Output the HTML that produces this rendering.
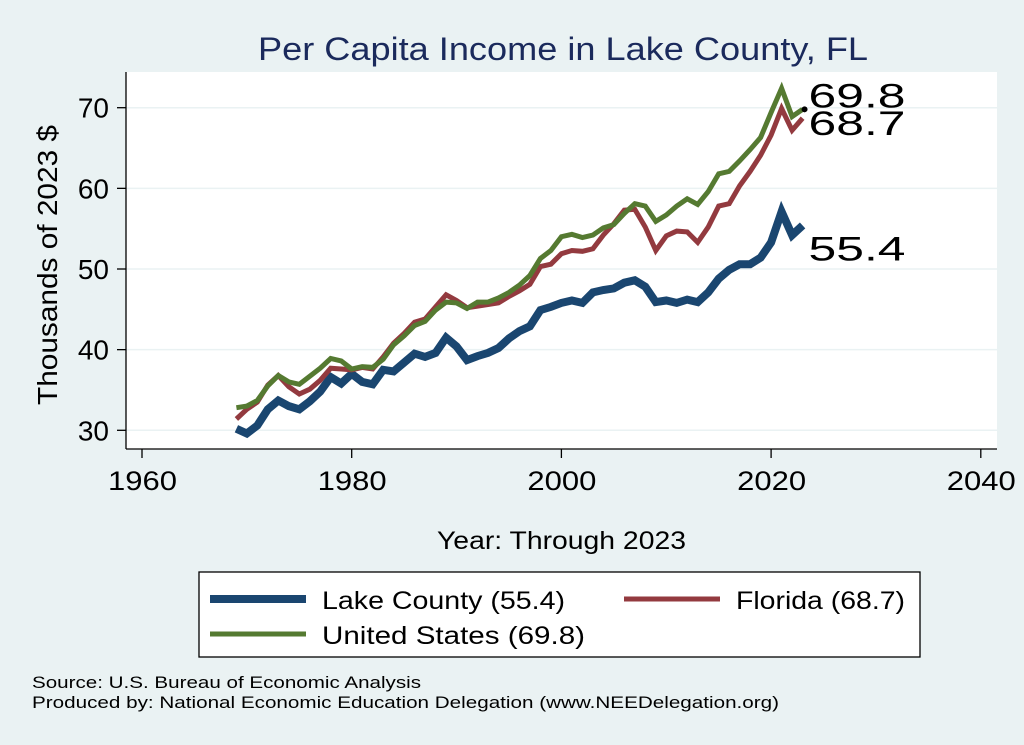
<!DOCTYPE html>
<html><head><meta charset="utf-8"><style>
body{margin:0;background:#eaf2f3;}
svg{display:block;font-family:"Liberation Sans",sans-serif;}
</style></head><body>
<svg width="1024" height="745" viewBox="0 0 1024 745">
<rect x="0" y="0" width="1024" height="745" fill="#eaf2f3"/>
<text x="258" y="60" textLength="610" lengthAdjust="spacingAndGlyphs" font-size="32" fill="#1b2a5c">Per Capita Income in Lake County, FL</text>
<rect x="126" y="72" width="871" height="377" fill="#fff"/>
<g id="grid"></g>
<g id="axes"></g>
<g id="series"></g>
<text transform="translate(57,405) rotate(-90)" textLength="280" lengthAdjust="spacingAndGlyphs" font-size="28" fill="#000">Thousands of 2023 $</text>
<text x="437" y="549" textLength="249" lengthAdjust="spacingAndGlyphs" font-size="25" fill="#000">Year: Through 2023</text>
<g>
<rect x="199" y="572" width="721" height="85" fill="#fff" stroke="#000" stroke-width="1.3"/>
<line x1="210" y1="599" x2="306" y2="599" stroke="#1a4670" stroke-width="8"/>
<text x="322" y="609" textLength="243" lengthAdjust="spacingAndGlyphs" font-size="25">Lake County (55.4)</text>
<line x1="624" y1="599" x2="720" y2="599" stroke="#933a3f" stroke-width="5"/>
<text x="736" y="609" textLength="169" lengthAdjust="spacingAndGlyphs" font-size="25">Florida (68.7)</text>
<line x1="210" y1="634" x2="306" y2="634" stroke="#557a31" stroke-width="5"/>
<text x="322" y="644" textLength="263" lengthAdjust="spacingAndGlyphs" font-size="25">United States (69.8)</text>
</g>
<text x="32" y="688" textLength="389" lengthAdjust="spacingAndGlyphs" font-size="17">Source: U.S. Bureau of Economic Analysis</text>
<text x="32" y="708" textLength="747" lengthAdjust="spacingAndGlyphs" font-size="17">Produced by: National Economic Education Delegation (www.NEEDelegation.org)</text>
</svg>
<script>
const years=[];for(let y=1969;y<=2023;y++)years.push(y);
const lake=[30.2,29.6,30.6,32.6,33.7,33.0,32.6,33.6,34.8,36.6,35.8,37.0,36.0,35.7,37.5,37.3,38.4,39.5,39.1,39.6,41.5,40.4,38.7,39.2,39.6,40.2,41.4,42.3,42.9,44.9,45.3,45.8,46.1,45.8,47.1,47.4,47.6,48.3,48.6,47.8,45.9,46.1,45.8,46.2,45.9,47.1,48.8,49.9,50.6,50.6,51.4,53.3,57.1,54.2,55.4];
const florida=[31.4,32.6,33.5,35.6,36.8,35.4,34.5,35.1,36.2,37.7,37.6,37.5,37.8,37.6,39.1,40.8,42.0,43.4,43.8,45.3,46.8,46.1,45.2,45.4,45.6,45.8,46.6,47.3,48.1,50.3,50.6,51.9,52.3,52.2,52.5,54.2,55.6,57.3,57.4,55.2,52.3,54.1,54.7,54.6,53.3,55.2,57.8,58.1,60.3,62.1,64.1,66.6,69.9,67.2,68.7];
const us=[32.8,33.0,33.7,35.5,36.8,36.0,35.7,36.7,37.7,38.9,38.6,37.6,37.9,37.8,38.8,40.6,41.7,43.0,43.5,44.9,45.9,45.8,45.1,45.9,45.9,46.4,47.1,48.0,49.2,51.3,52.3,54.0,54.3,53.9,54.2,55.1,55.5,56.9,58.1,57.8,55.9,56.7,57.8,58.7,58.0,59.6,61.8,62.1,63.4,64.8,66.3,69.4,72.4,68.9,69.8];
const xTicks=[1960,1980,2000,2020,2040];
const yTicks=[30,40,50,60,70];
const NS='http://www.w3.org/2000/svg';
const X=y=>142+(y-1960)*10.485;
const Y=v=>430.3-(v-30)*8.065;
function mk(tag,attrs,parent){const e=document.createElementNS(NS,tag);for(const k in attrs)e.setAttribute(k,attrs[k]);parent.appendChild(e);return e;}
const grid=document.getElementById('grid'),axes=document.getElementById('axes'),ser=document.getElementById('series');
yTicks.forEach(t=>{
 const g=mk('line',{x1:126,x2:997,y1:Y(t),y2:Y(t),stroke:'#eaf2f3','stroke-width':1.5},grid);
 
 
 const tk=mk('line',{x1:117,x2:126,y1:Y(t),y2:Y(t),stroke:'#000','stroke-width':1.3},axes);
 
 
 const tx=mk('text',{x:109,y:Y(t)+10,'text-anchor':'end','font-size':28},axes);tx.textContent=t;
 
 
});
xTicks.forEach(t=>{
 const tk=mk('line',{x1:X(t),x2:X(t),y1:449,y2:458,stroke:'#000','stroke-width':1.3},axes);
 
 
 const tx=mk('text',{x:X(t)-34,y:490,textLength:69,lengthAdjust:'spacingAndGlyphs','font-size':27},axes);tx.textContent=t;
 
 
});
const ya=mk('line',{x1:126,x2:126,y1:72,y2:449,stroke:'#000','stroke-width':1.3},axes);


const xa=mk('line',{x1:126,x2:997,y1:449,y2:449,stroke:'#000','stroke-width':1.3},axes);


function line(vals,color,w,name){
 const d=vals.map((v,i)=>(i?'L':'M')+X(years[i]).toFixed(1)+','+Y(v).toFixed(1)).join('');
 const p=mk('path',{d:d,fill:'none',stroke:color,'stroke-width':w,'stroke-linejoin':'miter'},ser);
 
 
}
line(lake,'#1a4670',8,'line-lake-county');
line(florida,'#933a3f',5,'line-florida');
line(us,'#557a31',5,'line-united-states');
const last=years.length-1;
const dot=mk('circle',{cx:X(years[last])+2,cy:Y(us[last]),r:3,fill:'#000'},ser);


const labelNames=['label-us','label-florida','label-lake'];
const labelDy=[-2,17,35];
[us,florida,lake].forEach((vals,i)=>{
 const t=mk('text',{x:X(years[last])+6,y:Y(vals[last])+labelDy[i],textLength:97,lengthAdjust:'spacingAndGlyphs','font-size':34},ser);
 t.textContent=vals[last].toFixed(1);
 
 
});
</script>
</body></html>
